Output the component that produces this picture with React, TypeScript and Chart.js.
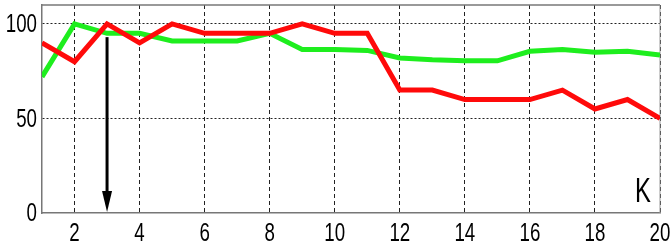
import React, { useEffect, useRef } from "react";
import { Chart, registerables } from "chart.js";

Chart.register(...registerables);

const kValues = [1, 2, 3, 4, 5, 6, 7, 8, 9, 10, 11, 12, 13, 14, 15, 16, 17, 18, 19, 20];
const redSeries = [90, 80, 100, 90, 100, 95, 95, 95, 100, 95, 95, 65, 65, 60, 60, 60, 65, 55, 60, 50];
const greenSeries = [72, 100, 95, 95, 91, 91, 91, 95, 86.5, 86.5, 86, 82, 81, 80.5, 80.5, 85.5, 86.5, 85, 85.5, 83.5];
const xTicks = [2, 4, 6, 8, 10, 12, 14, 16, 18, 20];
const yTicks = [0, 50, 100];
const arrowK = 3;
const arrowFrom = 93;
const arrowTo = 0;
const axisLabel = "K";

const FONT = "'Liberation Sans', Arial, sans-serif";
const TICK_SIZE = 26;
const NARROW = 0.72;

function drawNarrow(ctx: any, text: string, x: number, y: number, size: number, sx: number, align: string) {
  ctx.save();
  ctx.translate(x, y);
  ctx.scale(sx, 1);
  ctx.font = size + "px " + FONT;
  ctx.textAlign = align;
  ctx.textBaseline = "alphabetic";
  ctx.fillStyle = "#000";
  ctx.fillText(text, 0, size * 0.358);
  ctx.restore();
}

const framePlugin = {
  id: "frame",
  beforeDatasetsDraw(chart: any) {
    const { ctx, chartArea } = chart;
    const { left, right, top, bottom } = chartArea;
    ctx.save();
    ctx.strokeStyle = "#777";
    ctx.lineWidth = 1.5;
    ctx.beginPath();
    ctx.moveTo(left, top);
    ctx.lineTo(right, top);
    ctx.stroke();
    ctx.strokeStyle = "#999";
    ctx.lineWidth = 1;
    ctx.beginPath();
    ctx.moveTo(right, top);
    ctx.lineTo(right, bottom);
    ctx.stroke();
    ctx.restore();
  },
  afterDatasetsDraw(chart: any) {
    const { ctx, chartArea, scales } = chart;
    const { left, right, bottom } = chartArea;
    ctx.save();
    const ax = scales.x.getPixelForValue(arrowK);
    const y1 = scales.y.getPixelForValue(arrowFrom);
    const y2 = scales.y.getPixelForValue(arrowTo);
    ctx.strokeStyle = "#000";
    ctx.fillStyle = "#000";
    ctx.lineWidth = 3;
    ctx.beginPath();
    ctx.moveTo(ax, y1);
    ctx.lineTo(ax, y2 - 18);
    ctx.stroke();
    ctx.beginPath();
    ctx.moveTo(ax - 5, y2 - 22);
    ctx.lineTo(ax + 5, y2 - 22);
    ctx.lineTo(ax, y2 - 1);
    ctx.closePath();
    ctx.fill();
    ctx.restore();
    // tick labels from the library's scales
    scales.y.ticks.forEach((t: any) => {
      drawNarrow(ctx, String(t.value), left - 5, scales.y.getPixelForValue(t.value) - 1, TICK_SIZE, NARROW, "right");
    });
    scales.x.ticks.forEach((t: any) => {
      drawNarrow(ctx, String(t.value), scales.x.getPixelForValue(t.value), bottom + 19, TICK_SIZE, NARROW, "center");
    });
    drawNarrow(ctx, axisLabel, right - 17, bottom - 24, 35, 0.68, "center");
  },
};

export default function App() {
  const ref = useRef<HTMLCanvasElement>(null);
  useEffect(() => {
    if (!ref.current) return;
    const chart = new Chart(ref.current, {
      type: "line",
      data: {
        datasets: [
          {
            data: kValues.map((k, i) => ({ x: k, y: redSeries[i] })),
            borderColor: "#ff0a0a",
            borderWidth: 5,
            pointRadius: 0,
            tension: 0,
          },
          {
            data: kValues.map((k, i) => ({ x: k, y: greenSeries[i] })),
            borderColor: "#1eee1e",
            borderWidth: 5,
            pointRadius: 0,
            tension: 0,
          },
        ],
      },
      options: {
        animation: false,
        responsive: false,
        maintainAspectRatio: false,
        layout: { padding: { left: 0, top: 5, right: 10, bottom: 0 } },
        plugins: { legend: { display: false }, tooltip: { enabled: false } },
        scales: {
          x: {
            type: "linear",
            min: 1,
            max: 20,
            afterBuildTicks: (s: any) => {
              s.ticks = xTicks.map((v) => ({ value: v }));
            },
            afterFit: (s: any) => {
              s.height = 38;
              s.paddingLeft = 0;
              s.paddingRight = 0;
            },
            border: { display: true, color: "#777", width: 1.5, dash: [4, 3] },
            grid: {
              drawTicks: false,
              color: "#222",
              lineWidth: 1,
            },
            ticks: { display: false },
          },
          y: {
            min: 0,
            max: 110,
            afterBuildTicks: (s: any) => {
              s.ticks = yTicks.map((v) => ({ value: v }));
            },
            afterFit: (s: any) => {
              s.width = 42;
              s.paddingTop = 0;
              s.paddingBottom = 0;
            },
            border: { display: true, color: "#777", width: 1.5, dash: [2, 2] },
            grid: {
              drawTicks: false,
              color: (c: any) => (c.tick && c.tick.value === 0 ? "rgba(0,0,0,0)" : "#222"),
              lineWidth: 1,
            },
            ticks: { display: false },
          },
        },
      },
      plugins: [framePlugin],
    });
    return () => chart.destroy();
  }, []);
  return (
    <div style={{ position: "fixed", left: 0, top: 0, width: 670, height: 251, background: "#fff" }}>
      <canvas ref={ref} width={670} height={251} />
    </div>
  );
}
